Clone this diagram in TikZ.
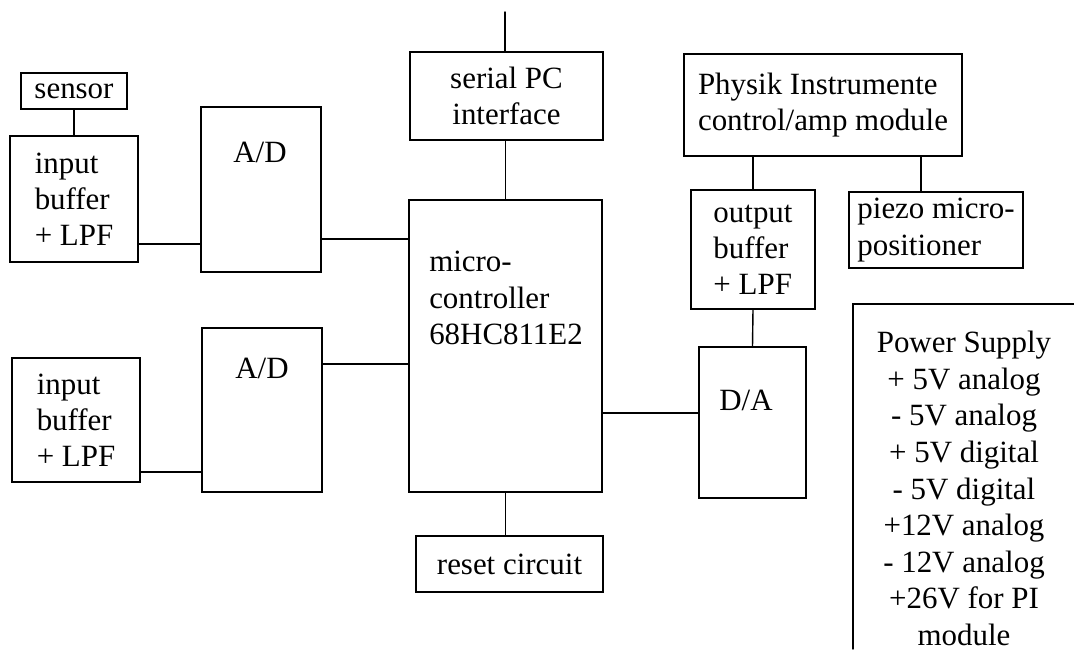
\documentclass[tikz,border=0pt]{standalone}
\usepackage{fontspec}
\setmainfont{Liberation Serif}

\begin{document}
\begin{tikzpicture}[line cap=round, line width=0.4pt,
  every node/.style={font=\fontsize{8.8}{10.3}\selectfont, inner sep=0pt},
  box/.style={draw}]
\useasboundingbox (0,0) rectangle (10.74,6.49);
% 输入通道
\node[box, minimum width=1.06cm, minimum height=0.36cm] (sensor) at (0.74,5.58) {sensor};
\node[box, align=left, minimum width=1.28cm, minimum height=1.26cm] (inbufA) at (0.74,4.50) {input\\buffer\\+ LPF};
\node[box, align=left, minimum width=1.28cm, minimum height=1.24cm] (inbufB) at (0.76,2.29) {input\\buffer\\+ LPF};
\node[box, minimum width=1.20cm, minimum height=1.65cm] (adA) at (2.61,4.595) {};
\node (adAtext) at (2.60,4.97) {A/D};
\node[box, minimum width=1.20cm, minimum height=1.64cm] (adB) at (2.62,2.39) {};
\node (adBtext) at (2.62,2.81) {A/D};
% 单片机与外围
\node[box, align=center, minimum width=1.93cm, minimum height=0.88cm] (serial) at (5.065,5.53) {serial PC\\interface};
\node[box, minimum width=1.93cm, minimum height=2.92cm] (micro) at (5.055,3.03) {};
\node[align=left] (microtext) at (5.06,3.51) {micro-\\controller\\68HC811E2};
\node[box, minimum width=1.87cm, minimum height=0.56cm] (reset) at (5.095,0.85) {reset circuit};
\coordinate (pcport) at (5.05,6.37);
% 输出通道
\node[box, align=left, minimum width=2.78cm, minimum height=1.02cm] (pimod) at (8.23,5.44) {Physik Instrumente\\control/amp module};
\node[box, align=left, minimum width=1.24cm, minimum height=1.19cm] (outbuf) at (7.53,3.995) {output\\buffer\\+ LPF};
\node[box, align=left, minimum width=1.74cm, minimum height=0.76cm] (piezo) at (9.36,4.19) {piezo micro-\\positioner};
\node[box, minimum width=1.07cm, minimum height=1.51cm] (da) at (7.525,2.265) {};
\node (datext) at (7.46,2.49) {D/A};
% 电源
\draw (10.74,3.45) -| (8.53,0);
\node[align=center, font=\fontsize{8.8}{10.4}\selectfont] (power) at (9.64,1.605) {Power Supply\\+ 5V analog\\- 5V analog\\+ 5V digital\\- 5V digital\\+12V analog\\- 12V analog\\+26V for PI\\module};
% 连线
\draw (sensor) -- (inbufA);
\draw (inbufA.east |- 0,4.05) -- (adA.west |- 0,4.05);
\draw (adA.east |- 0,4.10) -- (micro.west |- 0,4.10);
\draw (inbufB.east |- 0,1.77) -- (adB.west |- 0,1.77);
\draw (adB.east |- 0,2.85) -- (micro.west |- 0,2.85);
\draw (pcport |- serial.north) -- (pcport);
\draw (serial.south -| micro.north) -- (micro.north);
\draw (micro.south) -- (micro.south |- reset.north);
\draw (micro.east |- 0,2.36) -- (da.west |- 0,2.36);
\draw (outbuf.north) -- (outbuf.north |- pimod.south);
\draw (9.21,0 |- piezo.north) -- (9.21,0 |- pimod.south);
\draw (outbuf.south) -- (da.north);
\end{tikzpicture}
\end{document}
